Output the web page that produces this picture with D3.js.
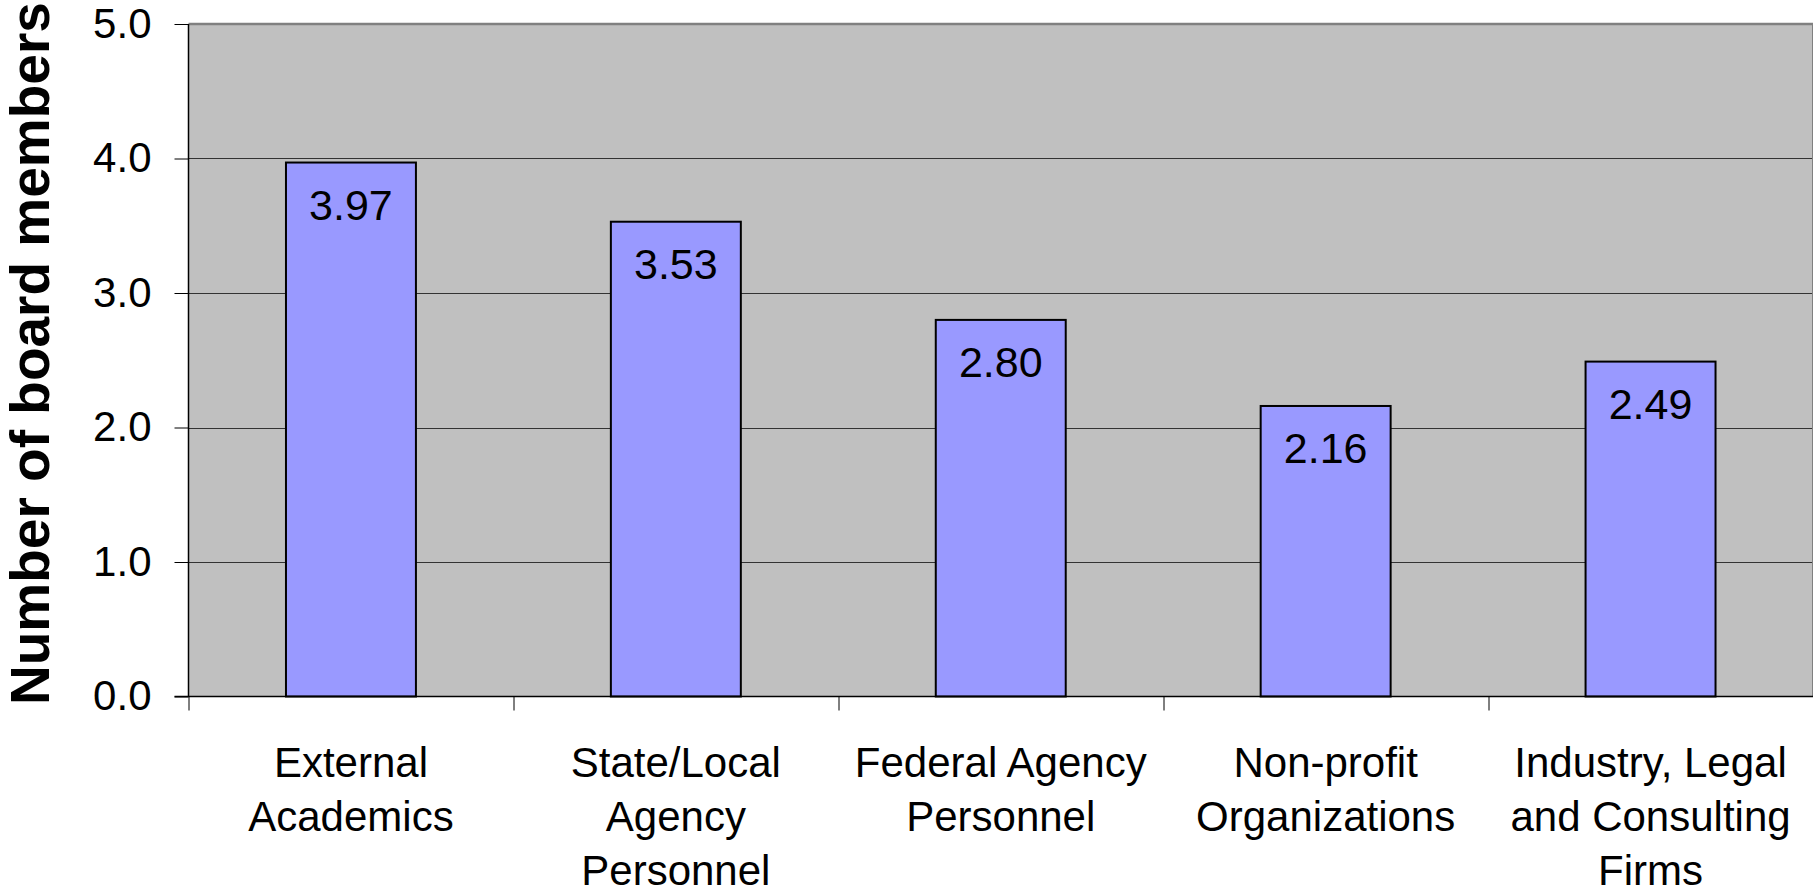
<!DOCTYPE html>
<html lang="en">
<head>
    <meta charset="UTF-8">
    <title>Board members</title>
    <script src="https://cdn.jsdelivr.net/npm/d3@7/dist/d3.min.js"></script>
</head>
<style>
    body { margin: 0; background: #fff; }
    svg { display: block; font-family: "Liberation Sans", Arial, sans-serif; }
    .bar { fill: #9999ff; stroke: #000; stroke-width: 2; }
    .valueText { fill: #000; text-anchor: middle; font-size: 43px; }
    .catText { fill: #000; text-anchor: middle; font-size: 42px; }
</style>
<body>
<script>
    var width = 1814;
    var height = 890;

    // data
    var categories = [
        ['External', 'Academics'],
        ['State/Local', 'Agency', 'Personnel'],
        ['Federal Agency', 'Personnel'],
        ['Non-profit', 'Organizations'],
        ['Industry, Legal', 'and Consulting', 'Firms']
    ];
    var values = [3.97, 3.53, 2.80, 2.16, 2.49];
    var yTicks = [0, 1, 2, 3, 4, 5];
    var yTitle = 'Number of board members';

    var padding = {left: 188.5, right: 1, top: 24, bottom: 193.5};
    var plotW = width - padding.left - padding.right;
    var plotH = height - padding.top - padding.bottom;

    var svg = d3.select('body')
        .append('svg')
        .attr('width', width)
        .attr('height', height);

    var idx = d3.range(values.length);

    // category slots (for ticks and labels)
    var xCat = d3.scaleBand()
        .domain(idx)
        .range([0, plotW]);

    // bars take 40% of a slot, centred
    var xBar = d3.scaleBand()
        .domain(idx)
        .range([0, plotW])
        .paddingInner(0.6)
        .paddingOuter(0.3);

    var yScale = d3.scaleLinear()
        .domain([0, 5])
        .range([plotH, 0]);

    var g = svg.append('g')
        .attr('transform', 'translate(' + padding.left + ',' + padding.top + ')');

    // plot background
    g.append('rect')
        .attr('x', 0)
        .attr('y', 0)
        .attr('width', plotW)
        .attr('height', plotH)
        .attr('fill', '#c0c0c0');

    // gridlines
    g.selectAll('.grid')
        .data(yTicks.filter(function (d) { return d > 0 && d < 5; }))
        .enter()
        .append('line')
        .attr('x1', 0)
        .attr('x2', plotW)
        .attr('y1', function (d) { return Math.round(yScale(d)) + 0.5; })
        .attr('y2', function (d) { return Math.round(yScale(d)) + 0.5; })
        .attr('stroke', '#333')
        .attr('stroke-width', 1);

    // top and right border
    g.append('line')
        .attr('x1', 0).attr('x2', plotW)
        .attr('y1', yScale(5)).attr('y2', yScale(5))
        .attr('stroke', '#808080').attr('stroke-width', 2.5);
    g.append('line')
        .attr('x1', plotW - 0.5).attr('x2', plotW - 0.5)
        .attr('y1', 0).attr('y2', plotH)
        .attr('stroke', '#808080').attr('stroke-width', 1);

    // bars
    g.selectAll('.bar')
        .data(values)
        .enter()
        .append('rect')
        .attr('class', 'bar')
        .attr('x', function (d, i) { return xBar(i); })
        .attr('y', function (d) { return yScale(d); })
        .attr('width', xBar.bandwidth())
        .attr('height', function (d) { return plotH - yScale(d); });

    // value labels
    g.selectAll('.valueText')
        .data(values)
        .enter()
        .append('text')
        .attr('class', 'valueText')
        .attr('x', function (d, i) { return xBar(i) + xBar.bandwidth() / 2; })
        .attr('y', function (d) { return yScale(d) + 57; })
        .text(function (d) { return d.toFixed(2); });

    // y axis
    var yAxis = d3.axisLeft(yScale)
        .tickValues(yTicks)
        .tickFormat(d3.format('.1f'))
        .tickSize(14)
        .tickPadding(23);

    var yG = g.append('g').call(yAxis);
    yG.select('.domain').attr('stroke', '#000').attr('stroke-width', 1.5).attr('d', 'M0,0V' + plotH);
    yG.selectAll('.tick line').attr('stroke', '#000');
    yG.selectAll('.tick text')
        .attr('font-size', '42px')
        .attr('font-family', '"Liberation Sans", Arial, sans-serif')
        .attr('fill', '#000');

    // x axis line and slot ticks
    g.append('line')
        .attr('x1', -14).attr('x2', plotW)
        .attr('y1', plotH).attr('y2', plotH)
        .attr('stroke', '#000').attr('stroke-width', 1.5);

    g.selectAll('.xtick')
        .data(idx)
        .enter()
        .append('line')
        .attr('x1', function (d) { return Math.round(xCat(d)) + 0.5; })
        .attr('x2', function (d) { return Math.round(xCat(d)) + 0.5; })
        .attr('y1', plotH)
        .attr('y2', plotH + 14)
        .attr('stroke', '#000');

    // category labels
    var cat = g.selectAll('.catText')
        .data(categories)
        .enter()
        .append('text')
        .attr('class', 'catText')
        .attr('x', function (d, i) { return xCat(i) + xCat.bandwidth() / 2; })
        .attr('y', plotH + 80);

    cat.selectAll('tspan')
        .data(function (d) { return d; })
        .enter()
        .append('tspan')
        .attr('x', function () { return d3.select(this.parentNode).attr('x'); })
        .attr('dy', function (d, i) { return i === 0 ? 0 : 54; })
        .text(function (d) { return d; });

    // y title
    svg.append('text')
        .attr('transform', 'translate(49,705) rotate(-90)')
        .attr('font-size', '55px')
        .attr('font-weight', 'bold')
        .attr('fill', '#000')
        .text(yTitle);
</script>
</body>
</html>
